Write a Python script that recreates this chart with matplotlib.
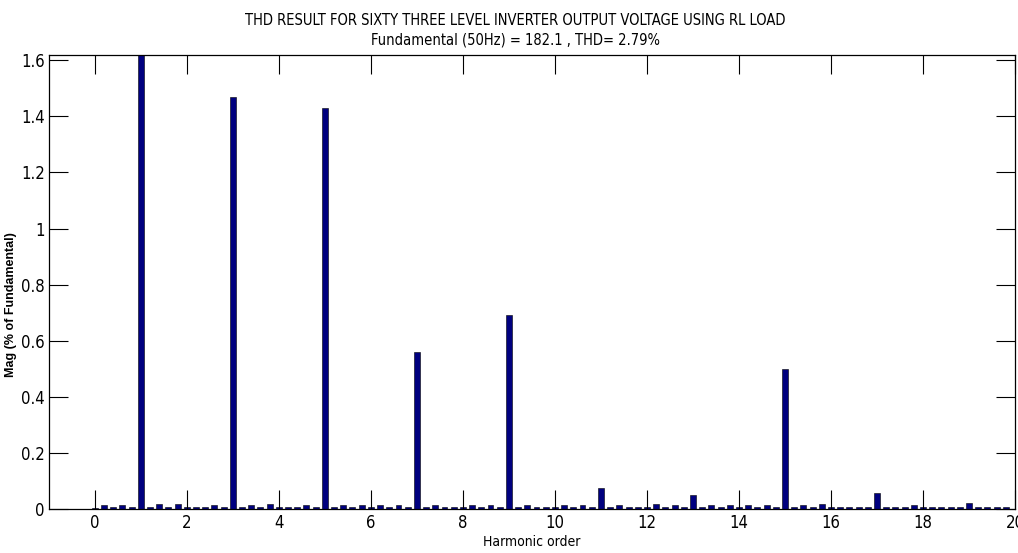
import numpy as np
import matplotlib.pyplot as plt

# harmonic order axis (0 .. 19.8 step 0.2) and magnitudes in % of fundamental
order = np.round(np.arange(0, 20, 0.2), 1)

s, m, t = 0.007, 0.012, 0.016
mag = [
    0.003, m, s, m, s, 100.0, s, t, s, t,      # 0 .. 1.8
    s, s, s, m, s, 1.47, s, m, s, t,           # 2 .. 3.8
    s, s, s, m, s, 1.43, s, m, s, m,           # 4 .. 5.8
    s, m, s, m, s, 0.56, s, m, s, s,           # 6 .. 7.8
    s, m, s, m, s, 0.69, s, m, s, s,           # 8 .. 9.8
    s, m, s, m, s, 0.075, s, m, s, s,          # 10 .. 11.8
    s, 0.018, s, m, s, 0.05, s, m, s, m,       # 12 .. 13.8
    s, m, s, m, s, 0.50, s, m, s, t,           # 14 .. 15.8
    s, s, s, s, s, 0.055, s, s, s, m,          # 16 .. 17.8
    s, s, s, s, s, 0.022, s, s, s, s,          # 18 .. 19.8
]

title_1 = "THD RESULT FOR SIXTY THREE LEVEL INVERTER OUTPUT VOLTAGE USING RL LOAD"
title_2 = "Fundamental (50Hz) = 182.1 , THD= 2.79%"

# condensed face, close to the narrow MATLAB font
nf = dict(family="DejaVu Sans", stretch="condensed")

fig = plt.figure(figsize=(10.18, 5.53), dpi=100)
ax = fig.add_axes([0.048, 0.080, 0.949, 0.820])

ax.bar(order, mag, width=0.13, color="#00007f", edgecolor="black", linewidth=0.4)

ax.set_xlim(-1, 20)
ax.set_ylim(0, 1.618)
ax.set_xticks(np.arange(0, 21, 2))
ax.set_yticks(np.arange(0, 1.61, 0.2))
ax.set_yticklabels(["0", "0.2", "0.4", "0.6", "0.8", "1", "1.2", "1.4", "1.6"])
ax.tick_params(direction="in", length=14, width=0.8, top=True, right=True,
               labelsize=12, pad=4)
ax.tick_params(axis="y", pad=3)
for lab in ax.get_xticklabels() + ax.get_yticklabels():
    lab.set_family(nf["family"])
    lab.set_stretch(nf["stretch"])
for sp in ax.spines.values():
    sp.set_linewidth(0.9)

ax.set_xlabel("Harmonic order", fontsize=10, labelpad=2, **nf)
ax.set_ylabel("Mag (% of Fundamental)", family="Liberation Sans", fontweight="bold",
              fontsize=9)
ax.yaxis.set_label_coords(-0.033, 0.45)

fig.text(0.506, 0.963, title_1, ha="center", va="center", fontsize=10.5, **nf)
fig.text(0.506, 0.927, title_2, ha="center", va="center", fontsize=10.5, **nf)

fig.savefig("out.png", dpi=100)
